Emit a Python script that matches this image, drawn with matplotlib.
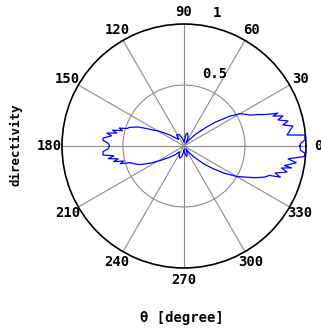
import numpy as np
import matplotlib.pyplot as plt

# directivity pattern (angle in degree, normalised level)
theta_deg = [0, 1.5, 2.8, 5.2, 5.4, 6.1, 10.4, 12, 13.5, 15.5, 16.9, 18.6, 19.3, 21, 23, 25, 27, 30,
             33, 37, 40, 45, 50, 55,
             65, 75, 80, 90, 100, 112, 123, 130, 135,
             142, 146, 150, 153, 155, 157.6, 160, 161, 163, 164.5, 166, 167.5, 169, 170.5, 172,
             174.4, 176, 178, 180, 182, 184, 186.3,
             188, 189.5, 191, 192.5, 194, 195.5, 197, 198, 200, 203, 207, 212, 218,
             225, 232, 240, 250, 258, 265, 270, 277, 284, 292, 300, 305,
             308, 313, 318, 322, 326, 330, 336, 339, 341, 342.1, 343.5, 345.8, 347.3, 348.5, 349,
             351.5, 353, 355, 356.5, 358, 360]
level = [0.95, 0.96, 0.993, 0.996, 0.955, 0.85, 0.908, 0.83, 0.877, 0.80, 0.848, 0.77, 0.816, 0.72, 0.66, 0.60, 0.57, 0.53,
         0.45, 0.33, 0.24, 0.14, 0.07, 0.03,
         0.08, 0.11, 0.10, 0.03, 0.06, 0.10, 0.11, 0.07, 0.09,
         0.146, 0.19, 0.25, 0.29, 0.34, 0.41, 0.45, 0.47, 0.49, 0.55, 0.52, 0.60, 0.56, 0.64, 0.60,
         0.667, 0.665, 0.62, 0.61, 0.62, 0.665, 0.668,
         0.58, 0.63, 0.55, 0.59, 0.51, 0.54, 0.47, 0.45, 0.43, 0.39, 0.31, 0.22, 0.15,
         0.10, 0.06, 0.08, 0.105, 0.09, 0.05, 0.03, 0.06, 0.09, 0.07, 0.04, 0.03,
         0.07, 0.13, 0.22, 0.30, 0.40, 0.50, 0.64, 0.71, 0.74, 0.83, 0.78, 0.87, 0.82, 0.90, 0.84,
         0.93, 0.86, 0.99, 0.995, 0.955, 0.95]

angle_ticks = list(range(0, 360, 30))
angle_labels = [str(a) for a in angle_ticks]
r_labels = ['0.5', '1']

fnt = dict(family='DejaVu Sans Mono', weight='bold', size=10)

fig = plt.figure(figsize=(3.21, 3.29), dpi=100)
ax = fig.add_axes([0.1931, 0.1854, 0.760, 0.7416], projection='polar')

ax.plot(np.deg2rad(theta_deg), level, color='#0000ff', lw=0.9)

ax.set_ylim(0, 1)
ax.set_yticks([0.5])
ax.set_yticklabels([])
ax.set_thetagrids(angle_ticks, [''] * len(angle_ticks))
ax.grid(True, color='#8c8c8c', lw=0.8)
ax.spines['polar'].set_color('black')
ax.spines['polar'].set_linewidth(1.2)

for a, lab in zip(angle_ticks, angle_labels):
    ax.text(np.deg2rad(a), 1.1, lab, ha='center', va='center', clip_on=False, **fnt)

# radial labels like the original
ax.text(np.deg2rad(66.7), 0.643, r_labels[0], ha='center', va='center', **fnt)
ax.text(np.deg2rad(75.9), 1.125, r_labels[1], ha='center', va='center', clip_on=False, **fnt)

fig.text(0.05, 0.56, 'directivity', rotation=90, ha='center', va='center',
         family='DejaVu Sans Mono', weight='bold', size=9)
fig.text(0.567, 0.033, 'θ [degree]', ha='center', va='center',
         family='DejaVu Sans Mono', weight='bold', size=10)

fig.savefig('out.png', dpi=100)
